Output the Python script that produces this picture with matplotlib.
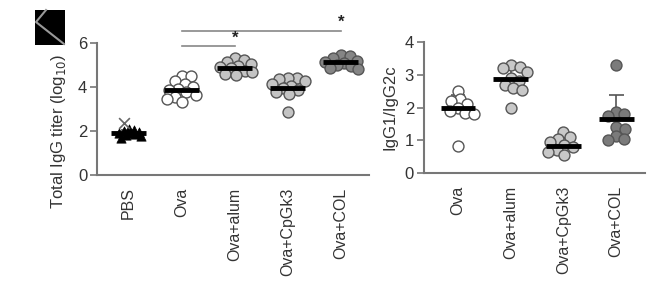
import numpy as np
import matplotlib
matplotlib.use("Agg")
import matplotlib.pyplot as plt
from matplotlib.patches import Rectangle
from matplotlib.lines import Line2D

plt.rcParams['font.family'] = ['Liberation Sans', 'DejaVu Sans']

# ---- data ----
groups_left = ["PBS", "Ova", "Ova+alum", "Ova+CpGk3", "Ova+COL"]
pbs_tri = [2.1, 2.05, 2.0, 1.95, 1.9, 1.9, 1.85, 1.8, 1.75, 1.7]
pbs_x = [2.35]
ova_left = [4.5, 4.5, 4.25, 4.15, 4.0, 3.9, 3.85, 3.75, 3.65, 3.55, 3.45, 3.3]
alum_left = [5.3, 5.25, 5.15, 5.05, 4.95, 4.9, 4.85, 4.75, 4.7, 4.6, 4.55]
cpg_left = [4.4, 4.4, 4.35, 4.25, 4.15, 4.05, 3.95, 3.85, 3.75, 3.7, 2.86]
col_left = [5.45, 5.4, 5.3, 5.2, 5.15, 5.1, 5.0, 4.95, 4.85, 4.8]
mean_left = [1.9, 3.85, 4.88, 3.97, 5.15]
sd_left = [0.12, 0.35, 0.2, 0.4, 0.15]

groups_right = ["Ova", "Ova+alum", "Ova+CpGk3", "Ova+COL"]
ova_right = [2.5, 2.25, 2.2, 2.1, 2.0, 1.9, 1.85, 1.8, 0.83]
alum_right = [3.3, 3.25, 3.2, 3.1, 2.9, 2.8, 2.7, 2.6, 2.55, 1.99]
cpg_right = [1.26, 1.1, 1.05, 0.95, 0.85, 0.8, 0.7, 0.65, 0.55]
col_right = [3.3, 1.87, 1.8, 1.75, 1.4, 1.35, 1.12, 1.05, 1.0]
mean_right = [1.99, 2.87, 0.83, 1.65]
sd_right = [0.4, 0.43, 0.25, 0.75]

face_left = ["black", "white", "#c4c4c4", "#c4c4c4", "#858585"]
face_right = ["white", "#c8c8c8", "#c8c8c8", "#7b7b7b"]

EDGE = "#555555"
AX = "#777777"
TXT = "#333333"


def swarm(vals, px_per_x, px_per_y, diam=11.0, gap=0.75, maxw=17):
    # simple beeswarm offsets (in x data units), capped in width
    order = np.argsort(vals)[::-1]
    placed = []
    offs = np.zeros(len(vals))
    for i in order:
        y = vals[i] * px_per_y
        best, bestd = 0.0, -1
        found = False
        for step in range(0, maxw + 1):
            for cand in ([0.0] if step == 0 else [step, -step]):
                dmin = min([np.hypot(cand - px, y - py) for (px, py) in placed] or [99])
                if dmin >= diam * gap:
                    best = cand
                    found = True
                    break
                if dmin > bestd:
                    best, bestd = cand, dmin
            if found:
                break
        placed.append((best, y))
        offs[i] = best / px_per_x
    return offs


fig = plt.figure(figsize=(6.59, 3.01), dpi=100)
axL = fig.add_axes([0.147, 0.419, 0.413, 0.438])
axR = fig.add_axes([0.643, 0.425, 0.336, 0.435])

PXX_L, PXY_L = 53.0, 22.0
PXX_R, PXY_R = 52.7, 32.75


def style(ax):
    for s in ["top", "right"]:
        ax.spines[s].set_visible(False)
    for s in ["left", "bottom"]:
        ax.spines[s].set_color(AX)
        ax.spines[s].set_linewidth(1.5)
    ax.tick_params(axis="y", colors=AX, labelcolor=TXT, length=5, width=1.2,
                   labelsize=12, pad=2)
    ax.tick_params(axis="x", length=0, labelcolor=TXT, labelsize=11.5, pad=9)


def group(ax, i, vals, face, pxx, pxy, mean, sd, marker="o"):
    if marker == "o":
        offs = swarm(vals, pxx, pxy)
    else:
        offs = swarm(vals, pxx, pxy, diam=8.0, gap=0.6, maxw=12)
    ax.vlines(i, mean, mean + sd, color=EDGE, lw=1.2, zorder=1)
    ax.hlines(mean + sd, i - 0.14, i + 0.14, color=EDGE, lw=1.2, zorder=1)
    if marker == "o":
        ax.scatter(i + offs, vals, s=62, facecolor=face, edgecolor=EDGE,
                   linewidth=1.0, zorder=2)
    else:
        ax.scatter(i + offs, vals, s=45, marker=marker, facecolor=face,
                   edgecolor="black", linewidth=0.5, zorder=2)
    ax.hlines(mean, i - 0.33, i + 0.33, color="black", lw=3.5, zorder=3)


# ---- left panel ----
style(axL)
group(axL, 0, pbs_tri, "black", PXX_L, PXY_L, mean_left[0], sd_left[0], marker="^")
axL.scatter([0 - 0.08], pbs_x, marker="x", s=60, color="#666666", linewidth=1.2, zorder=2)
left_sets = [ova_left, alum_left, cpg_left, col_left]
for k, vals in enumerate(left_sets, start=1):
    group(axL, k, vals, face_left[k], PXX_L, PXY_L, mean_left[k], sd_left[k])

axL.set_xlim(-0.6, 4.53)
axL.set_ylim(0, 6)
axL.set_yticks([0, 2, 4, 6])
axL.set_xticks(range(len(groups_left)))
axL.set_xticklabels(groups_left, rotation=90, va="top")
axL.set_ylabel("Total IgG titer (log$_{10}$)", fontsize=12, color=TXT)
axL.yaxis.set_label_coords(-0.105, 0.33)

# significance bars
sig = [(1, 2, 5.88, 6.23), (1, 4, 6.56, 6.95)]
for a, b, yl, ys in sig:
    axL.plot([a, b], [yl, yl], color="#888888", lw=1.2, clip_on=False)
    axL.text(b, ys, "*", ha="center", va="center", fontsize=12,
             fontweight="bold", color="#222222", clip_on=False)

# ---- right panel ----
style(axR)
right_sets = [ova_right, alum_right, cpg_right, col_right]
for k, vals in enumerate(right_sets):
    group(axR, k, vals, face_right[k], PXX_R, PXY_R, mean_right[k], sd_right[k])

axR.set_xlim(-0.65, 3.55)
axR.set_ylim(0, 4)
axR.set_yticks([0, 1, 2, 3, 4])
axR.set_xticks(range(len(groups_right)))
axR.set_xticklabels(groups_right, rotation=90, va="top")
axR.set_ylabel("IgG1/IgG2c", fontsize=12, color=TXT)
axR.yaxis.set_label_coords(-0.118, 0.5)

# panel letter box (top-left corner)
W, H = 659.0, 301.0
fig.patches.append(Rectangle((35 / W, 1 - 45 / H), 30 / W, 35 / H,
                             transform=fig.transFigure, facecolor="black",
                             edgecolor="none"))
fig.lines.append(Line2D([46 / W, 36 / W, 64 / W], [1 - 10 / H, 1 - 22 / H, 1 - 44 / H],
                        transform=fig.transFigure, color="#999999", lw=1.5))

fig.savefig("out.png", dpi=100)
